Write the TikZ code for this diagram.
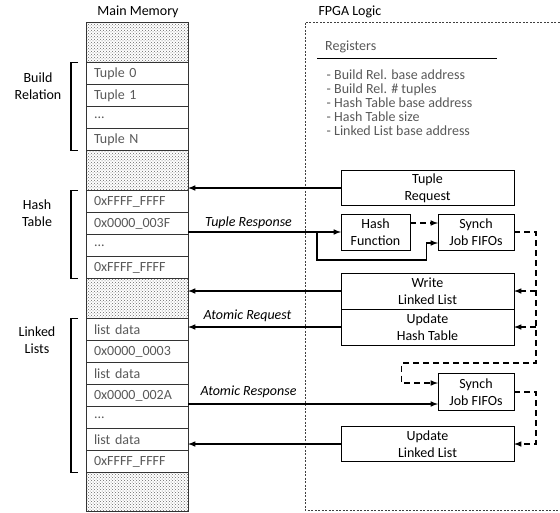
\documentclass[tikz,border=0pt]{standalone}
\usepackage{fontspec}
\setmainfont{Carlito}
\usetikzlibrary{arrows,patterns}
\definecolor{memgray}{RGB}{89,89,89}

\begin{document}
\begin{tikzpicture}[x=1pt,y=-1pt]
			\tikzstyle{memrow} = [
				draw = black!80, line width = 0.8pt, text = memgray,
				minimum height = 22pt, text width = 86pt, inner xsep = 8pt,
				inner ysep = 0pt, outer sep = 0pt, align = left,
				anchor = north west, font = \fontsize{14}{17}\selectfont
			]
			\tikzstyle{hatch} = [
				draw = black!80, line width = 0.8pt, pattern = crosshatch dots,
				pattern color = black!60, minimum width = 102pt,
				minimum height = 40pt, inner sep = 0pt, outer sep = 0pt,
				anchor = north west
			]
			\tikzstyle{box} = [
				draw, line width = 1pt, inner sep = 0pt, outer sep = 0pt,
				align = center, font = \fontsize{14}{17}\selectfont
			]
			\tikzstyle{title} = [font = \fontsize{14}{17}\selectfont, align = center]
			\tikzstyle{lbl} = [font = \fontsize{14}{17}\selectfont\itshape]
			\tikzstyle{wire} = [->, >=latex, line width = 1.5pt]
			\tikzstyle{ctrl} = [->, >=latex, line width = 1.5pt, dash pattern = on 6pt off 4pt]
			\tikzstyle{brace} = [-, line width = 1.2pt]
			\useasboundingbox (0,0) rectangle (560,512);
			% main memory
			\node[title] (memtitle) at (138,12) {Main Memory};
			\node[hatch] (hatcha) at (86,22.5) {};
			\node[memrow] (tup0) at (86,62.5) {Tuple 0};
			\node[memrow] (tup1) at (86,84.5) {Tuple 1};
			\node[memrow] (tupdots) at (86,106.5) {...};
			\node[memrow] (tupn) at (86,128.5) {Tuple N};
			\node[hatch] (hatchb) at (86,150.5) {};
			\node[memrow] (ht0) at (86,190.5) {0xFFFF\_FFFF};
			\node[memrow] (ht1) at (86,212.5) {0x0000\_003F};
			\node[memrow] (htdots) at (86,234.5) {...};
			\node[memrow] (htn) at (86,256.5) {0xFFFF\_FFFF};
			\node[hatch] (hatchc) at (86,278.5) {};
			\node[memrow] (ll0) at (86,318.5) {list data};
			\node[memrow] (ll1) at (86,340.5) {0x0000\_0003};
			\node[memrow] (ll2) at (86,362.5) {list data};
			\node[memrow] (ll3) at (86,384.5) {0x0000\_002A};
			\node[memrow] (ll4) at (86,406.5) {...};
			\node[memrow] (ll5) at (86,428.5) {list data};
			\node[memrow] (ll6) at (86,450.5) {0xFFFF\_FFFF};
			\node[hatch, minimum height = 39pt] (hatchd) at (86,472.5) {};
			% region labels
			\node[title] (buildlbl) at (38,86) {Build\\Relation};
			\node[title] (hashlbl) at (37,213) {Hash\\Table};
			\node[title] (listlbl) at (37,340) {Linked\\Lists};
			\draw ([xshift=-8pt]tup0.north west) -- ++(-7,0) |- ([xshift=-8pt]tupn.south west) [brace];
			\draw ([xshift=-8pt]ht0.north west) -- ++(-7,0) |- ([xshift=-8pt]htn.south west) [brace];
			\draw ([xshift=-8pt]ll0.north west) -- ++(-7,0) |- ([xshift=-8pt]ll6.south west) [brace];
			% fpga logic
			\node[title, anchor = west] (fpgatitle) at (315,12) {FPGA Logic};
			\draw (305,22.5) rectangle (566,510) [draw = black!75, line width = 0.8pt, dash pattern = on 2pt off 1.5pt];
			\node[title, anchor = west, text = memgray, inner sep = 0pt] (regtitle) at (325,47) {Registers};
			\draw (317,58) -- (497,58) [line width = 0.9pt];
			\node[anchor = west, inner sep = 0pt, align = left, text = memgray,
				font = \fontsize{14}{14}\selectfont] (reglist) at (326.5,102.5)
				{- Build Rel. base address\\- Build Rel. \# tuples\\- Hash Table base address\\- Hash Table size\\- Linked List base address};
			\node[box, minimum width = 173pt, minimum height = 35pt] (tupreq) at (427.5,188) {Tuple\\Request};
			\node[box, minimum width = 69pt, minimum height = 36pt] (hashfn) at (375.5,232) {Hash\\Function};
			\node[box, minimum width = 76pt, minimum height = 36pt] (synch) at (476,232) {Synch\\Job FIFOs};
			\node[box, minimum width = 173pt, minimum height = 36pt] (writell) at (427.5,291) {Write\\Linked List};
			\node[box, minimum width = 173pt, minimum height = 36pt] (updht) at (427.5,327) {Update\\Hash Table};
			\node[box, minimum width = 76pt, minimum height = 37pt] (synchb) at (476,392) {Synch\\Job FIFOs};
			\node[box, minimum width = 173pt, minimum height = 35pt] (updll) at (427.5,444) {Update\\Linked List};
			% memory traffic
			\node[lbl] (tuprsp) at (248.5,222.5) {Tuple Response};
			\node[lbl] (atomreq) at (247.5,316) {Atomic Request};
			\node[lbl] (atomrsp) at (248.5,392) {Atomic Response};
			\draw (tupreq.west) -- (tupreq.west -| hatchb.east) [wire];
			\draw (hashfn.west -| ht1.east) -- (hashfn.west) [wire];
			\coordinate (split) at (317,232);
			\coordinate (bypass) at (426.5,260);
			\draw (split) |- (bypass) |- ([yshift=-11pt]synch.west) [wire];
			\draw (writell.west) -- (writell.west -| hatchc.east) [wire];
			\draw (updht.west) -- (updht.west -| ll0.east) [wire];
			\draw ([yshift=-12pt]synchb.west -| ll3.east) -- ([yshift=-12pt]synchb.west) [wire];
			\draw (updll.west) -- (updll.west -| ll5.east) [wire];
			% job control
			\coordinate (busa) at (536,363);
			\coordinate (loop) at (401.5,363);
			\draw ([yshift=9pt]hashfn.east) -- ([yshift=9pt]synch.west) [ctrl];
			\draw (synch.east) -| (busa) -- (loop) |- ([yshift=9pt]synchb.west) [ctrl];
			\draw (writell.east -| busa) -- (writell.east) [ctrl];
			\draw (updht.east -| busa) -- (updht.east) [ctrl];
			\draw (synchb.east) -| (updll.east -| busa) -- (updll.east) [ctrl];
		\end{tikzpicture}
\end{document}
